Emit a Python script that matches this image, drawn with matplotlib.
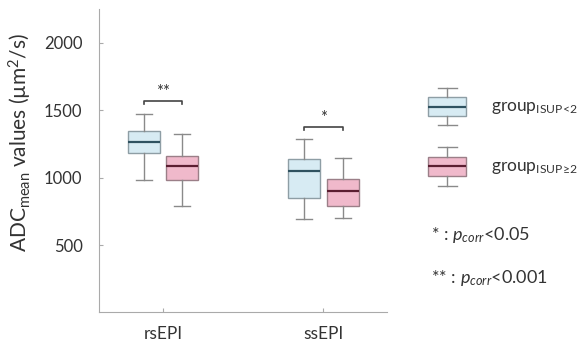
import matplotlib
matplotlib.use('Agg')
import matplotlib.pyplot as plt

plt.rcParams['font.family'] = ['Lato', 'DejaVu Sans']
plt.rcParams['mathtext.fontset'] = 'custom'
plt.rcParams['mathtext.rm'] = 'Lato'
plt.rcParams['mathtext.it'] = 'Lato:italic'

# box statistics (ADC mean values, um^2/s)
sequences = ['rsEPI', 'ssEPI']
low_whislo = [983, 694]
low_q1 = [1179, 846]
low_med = [1266, 1047]
low_q3 = [1348, 1139]
low_whishi = [1472, 1289]

high_whislo = [793, 699]
high_q1 = [983, 793]
high_med = [1087, 903]
high_q3 = [1159, 990]
high_whishi = [1326, 1146]

sig_labels = ['**', '*']
sig_heights = [1569, 1375]

blue_face = '#d7ebf3'
blue_edge = '#8e9ea5'
blue_med = '#2f5260'
pink_face = '#f0b9cb'
pink_edge = '#9b7f88'
pink_med = '#5b1e31'
whisk_col = '#8a8a8a'
text_col = '#333333'


def make_stats(lo, q1, med, q3, hi):
    return [dict(whislo=a, q1=b, med=c, q3=d, whishi=e, fliers=[])
            for a, b, c, d, e in zip(lo, q1, med, q3, hi)]


def draw_boxes(ax, stats, pos, width, face, edge, medc):
    ax.bxp(stats, positions=pos, widths=width, patch_artist=True,
           showfliers=False, manage_ticks=False,
           boxprops=dict(facecolor=face, edgecolor=edge, linewidth=1.0),
           medianprops=dict(color=medc, linewidth=1.6),
           whiskerprops=dict(color=whisk_col, linewidth=1.0),
           capprops=dict(color=whisk_col, linewidth=1.0),
           capwidths=width * 0.5)


fig = plt.figure(figsize=(5.8, 3.41), dpi=100)
ax = fig.add_axes([0.171, 0.0836, 0.497, 0.89])

x = [1, 2]
off = 0.12
draw_boxes(ax, make_stats(low_whislo, low_q1, low_med, low_q3, low_whishi),
           [p - off for p in x], 0.2, blue_face, blue_edge, blue_med)
draw_boxes(ax, make_stats(high_whislo, high_q1, high_med, high_q3, high_whishi),
           [p + off for p in x], 0.2, pink_face, pink_edge, pink_med)

# significance brackets
for p, lab, h in zip(x, sig_labels, sig_heights):
    ax.plot([p - off, p - off, p + off, p + off], [h - 25, h, h, h - 25],
            color='#444444', linewidth=1.2)
    ax.text(p, h + 5, lab, ha='center', va='bottom', fontsize=12, color=text_col)

ax.set_xlim(0.6, 2.4)
ax.set_ylim(0, 2250)
ax.set_xticks(x)
ax.set_xticklabels(sequences)
ax.set_yticks([500, 1000, 1500, 2000])
ax.tick_params(axis='both', direction='in', length=3, color='#aaaaaa',
               labelcolor=text_col, labelsize=12, pad=10)
ax.tick_params(axis='x', labelsize=12.5)
ax.tick_params(axis='y', pad=12)
for s in ['top', 'right']:
    ax.spines[s].set_visible(False)
for s in ['left', 'bottom']:
    ax.spines[s].set_color('#aaaaaa')
ax.set_ylabel(r'ADC$_{\mathrm{mean}}$ values (µm$^2$/s)', fontsize=15,
              color=text_col)
ax.yaxis.set_label_coords(-0.225, 0.56)

# legend drawn in figure pixel space
lax = fig.add_axes([0, 0, 1, 1])
lax.set_xlim(0, 580)
lax.set_ylim(0, 341)
lax.axis('off')
draw_boxes(lax, [dict(whislo=216, q1=225, med=234.5, q3=244.3, whishi=253.3, fliers=[])],
           [447], 38, blue_face, blue_edge, blue_med)
draw_boxes(lax, [dict(whislo=155.3, q1=165, med=175, q3=184.3, whishi=194, fliers=[])],
           [447], 38, pink_face, pink_edge, pink_med)
lax.text(491, 233, r'group$_{\mathrm{ISUP}\!<\!\mathrm{2}}$', fontsize=12.5, va='center', color=text_col)
lax.text(491, 173, r'group$_{\mathrm{ISUP}\!\geq\!\mathrm{2}}$', fontsize=12.5, va='center', color=text_col)
lax.text(431, 106, r'* : $p_{corr}$<0.05', fontsize=13, va='center', color=text_col)
lax.text(431, 63, r'** : $p_{corr}$<0.001', fontsize=13, va='center', color=text_col)

fig.savefig('out.png', dpi=100)
